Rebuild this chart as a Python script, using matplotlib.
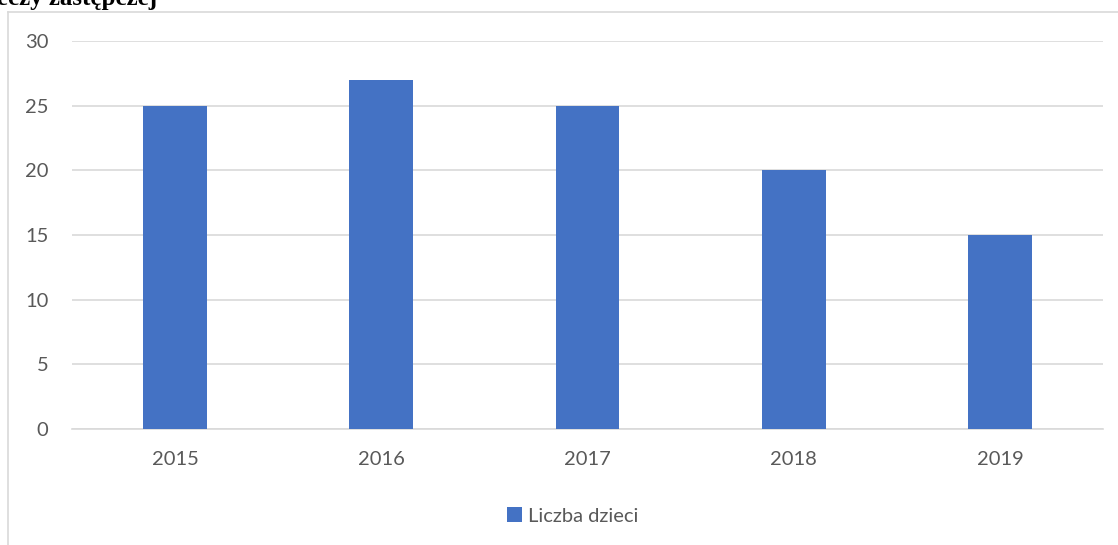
import matplotlib.pyplot as plt
from matplotlib.lines import Line2D

# dane
lata = ["2015", "2016", "2017", "2018", "2019"]
liczba_dzieci = [25, 27, 25, 20, 15]
y_ticks = [0, 5, 10, 15, 20, 25, 30]

W, H = 1118, 545
fig = plt.figure(figsize=(W / 100, H / 100), dpi=100)
ax = fig.add_axes([72 / W, 116 / H, (1103 - 72) / W, (429 - 41) / H])

x = range(len(lata))
ax.bar(x, liczba_dzieci, width=0.31, color="#4472C4", label="Liczba dzieci", zorder=3)

ax.set_xlim(-0.5, len(lata) - 0.5)
ax.set_ylim(0, 30)
ax.set_yticks(y_ticks)
ax.set_xticks(list(x))
ax.set_xticklabels(lata)
ax.yaxis.grid(True, color="#D9D9D9", linewidth=1.2, zorder=0)
for s in ["top", "right", "left"]:
    ax.spines[s].set_visible(False)
ax.spines["bottom"].set_color("#D9D9D9")
ax.spines["bottom"].set_linewidth(1.2)
ax.tick_params(axis="both", length=0, labelsize=14.5, labelcolor="#595959")
ax.tick_params(axis="y", pad=17)
ax.tick_params(axis="x", pad=16)
for lab in ax.get_xticklabels() + ax.get_yticklabels():
    lab.set_fontfamily("Lato")

leg = ax.legend(loc="center", bbox_to_anchor=(0.486, -0.224), frameon=False,
                prop={"family": "Lato", "size": 14.5}, handlelength=0.75,
                handleheight=0.75, handletextpad=0.3)
for t in leg.get_texts():
    t.set_color("#595959")

# ramka wykresu
fig.add_artist(Line2D([8 / W, 8 / W], [0, 1 - 12 / H], transform=fig.transFigure,
                      color="#D9D9D9", linewidth=1.2))
fig.add_artist(Line2D([8 / W, 1], [1 - 12 / H, 1 - 12 / H], transform=fig.transFigure,
                      color="#D9D9D9", linewidth=1.2))

# przycięty tytuł
fig.text(157 / W, 1 - 5 / H, "pieczy zastępczej", ha="right", va="baseline",
         fontsize=18, fontweight="bold", family="Liberation Serif")

fig.savefig("out.png", dpi=100)
